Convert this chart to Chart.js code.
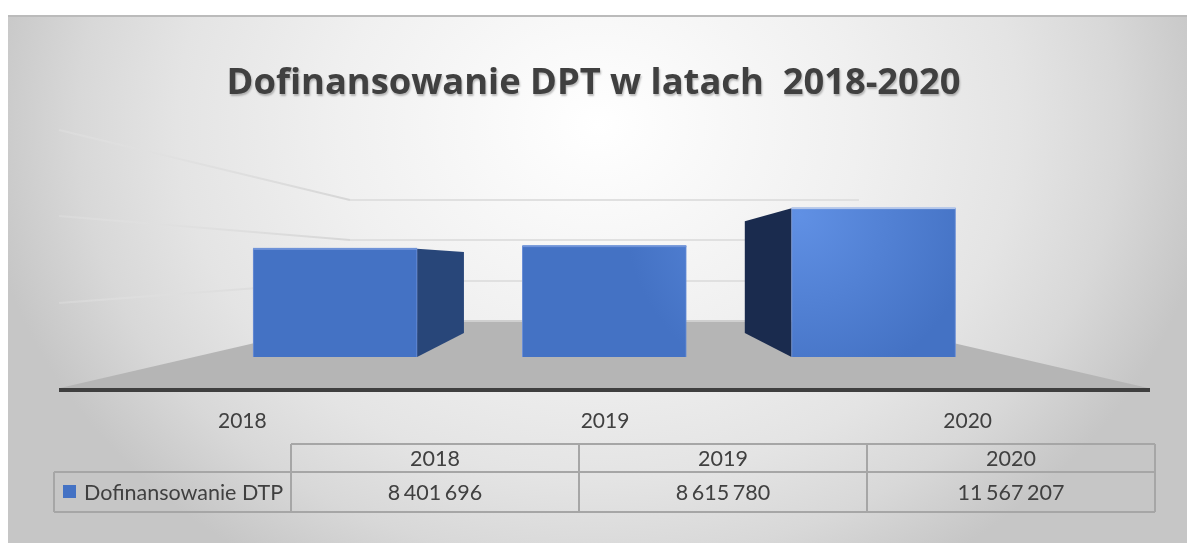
<!DOCTYPE html>
<html lang="pl">
<head>
<meta charset="utf-8">
<title>Dofinansowanie DPT</title>
<style>html,body{margin:0;padding:0;background:#fff;overflow:hidden}canvas{display:block}</style>
<script src="https://cdn.jsdelivr.net/npm/chart.js@4"></script>
</head>
<body>
<canvas id="c" width="1187" height="543"></canvas>
<script>
const titleText = 'Dofinansowanie DPT w latach  2018-2020';
const categories = ['2018', '2019', '2020'];
const years = [2018, 2019, 2020];
const seriesName = 'Dofinansowanie DTP';
const values = [8401696, 8615780, 11567207];
const tableValues = ['8 401 696', '8 615 780', '11 567 207'];

const FONT = 'Lato, Carlito, sans-serif';
const TEXT = '#404040';
const VP = {x: 604.5, y: 261};   // vanishing point of the 3D box
const DEPTH = 0.25;

function lerp(p, t) { return {x: p.x + (VP.x - p.x) * t, y: p.y + (VP.y - p.y) * t}; }
function poly(ctx, pts, fill) {
  ctx.beginPath();
  pts.forEach((p, i) => i ? ctx.lineTo(p[0], p[1]) : ctx.moveTo(p[0], p[1]));
  ctx.closePath(); ctx.fillStyle = fill; ctx.fill();
}
function line(ctx, x0, y0, x1, y1, style) {
  ctx.beginPath(); ctx.moveTo(x0, y0); ctx.lineTo(x1, y1);
  ctx.strokeStyle = style; ctx.lineWidth = 2; ctx.stroke();
}

const scene = {
  id: 'scene',
  beforeDraw(chart) {
    const ctx = chart.ctx;
    // white page + panel with office-style elliptical gradient
    ctx.save();
    ctx.fillStyle = '#fff'; ctx.fillRect(0, 0, chart.width, chart.height);
    ctx.beginPath(); ctx.rect(8, 15, chart.width - 8, chart.height - 15); ctx.clip();
    ctx.translate(598, 125); ctx.scale(1, 0.84);
    const g = ctx.createRadialGradient(0, 0, 0, 0, 0, 620);
    g.addColorStop(0, '#ffffff');
    g.addColorStop(0.42, '#f0f0f0');
    g.addColorStop(0.68, '#e4e4e4');
    g.addColorStop(0.84, '#d8d8d8');
    g.addColorStop(1, '#c6c6c6');
    ctx.fillStyle = g; ctx.fillRect(-700, -200, 1500, 800);
    ctx.restore();
    ctx.fillStyle = '#bbbbbb'; ctx.fillRect(8, 15, chart.width - 8, 2);

    // title shadow
    const tb = chart.titleBlock;
    if (tb && !tb._wrapped) {
      const d = tb.draw.bind(tb);
      tb.draw = (a) => {
        ctx.save();
        ctx.shadowColor = 'rgba(0,0,0,0.25)'; ctx.shadowBlur = 2; ctx.shadowOffsetY = 2; ctx.shadowOffsetX = 1;
        d(a); ctx.restore();
      };
      tb._wrapped = true;
    }

    // data table
    ctx.save();
    ctx.strokeStyle = '#a6a6a6'; ctx.lineWidth = 2;
    const cols = [291, 579, 867, 1155], top = 444, mid = 472, bot = 512, left = 54;
    ctx.beginPath();
    ctx.moveTo(cols[0], top); ctx.lineTo(cols[3], top);
    ctx.moveTo(left, mid); ctx.lineTo(cols[3], mid);
    ctx.moveTo(left, bot); ctx.lineTo(cols[3], bot);
    ctx.moveTo(left, mid); ctx.lineTo(left, bot);
    cols.forEach(x => { ctx.moveTo(x, top); ctx.lineTo(x, bot); });
    ctx.stroke();
    ctx.fillStyle = TEXT; ctx.textBaseline = 'middle'; ctx.textAlign = 'center';
    ctx.font = '21.5px ' + FONT;
    ctx.wordSpacing = '-2px';
    categories.forEach((c, i) => {
      const cx = (cols[i] + cols[i + 1]) / 2;
      ctx.fillText(c, cx, 459);
      ctx.fillText(tableValues[i], cx, 493);
    });
    ctx.wordSpacing = '0px';
    ctx.textAlign = 'left';
    ctx.fillText(seriesName, 84, 493);
    ctx.fillStyle = '#4472c4'; ctx.fillRect(63, 485, 13, 13);
    ctx.restore();
  },
  beforeDatasetsDraw(chart) {
    const ctx = chart.ctx;
    ctx.save();
    // floor
    poly(ctx, [[60, 388], [350, 321], [858, 321], [1148, 388]], '#b5b5b5');
    line(ctx, 350, 321, 858, 321, '#cfcfcf');
    // wall gridlines: back wall and left side wall
    const wall = '#e0e0e0';
    [[200, 130], [240, 216], [281, 303]].forEach(([y, yl]) => {
      const fade = ctx.createLinearGradient(59, 0, 350, 0);
      fade.addColorStop(0, 'rgba(228,228,228,0.35)'); fade.addColorStop(1, 'rgba(214,214,214,1)');
      line(ctx, 59, yl, 350, y, fade);
      line(ctx, 350, y, y === 200 ? 859 : 745, y, wall);
    });
    // 3D side faces derived from the bar elements
    chart.getDatasetMeta(0).data.forEach(bar => {
      const hw = bar.width / 2, l = bar.x - hw, r = bar.x + hw;
      let x, fill;
      if (r < VP.x) { x = r; fill = '#284679'; }
      else if (l > VP.x) { x = l; fill = '#1a2b4e'; }
      else return;
      const a = {x, y: bar.y}, b = {x, y: bar.base};
      const a2 = lerp(a, DEPTH), b2 = lerp(b, DEPTH);
      poly(ctx, [[a.x, a.y], [a2.x, a2.y], [b2.x, b2.y], [b.x, b.y]], fill);
    });
    ctx.restore();
  },
  afterDatasetsDraw(chart) {
    // thin bevel highlight along the top edge of each box
    const ctx = chart.ctx, tops = ['#6f93d8', '#6f93d8', '#b4c6ea'];
    chart.getDatasetMeta(0).data.forEach((bar, i) => {
      ctx.fillStyle = tops[i];
      ctx.fillRect(bar.x - bar.width / 2, bar.y - 1, bar.width, 2);
    });
  }
};

let barGradient = null;
function barFill(c) {
  if (!barGradient) {
    barGradient = c.chart.ctx.createRadialGradient(800, 215, 0, 800, 215, 175);
    barGradient.addColorStop(0, '#6090e4');
    barGradient.addColorStop(1, '#4472c4');
  }
  return barGradient;
}

new Chart(document.getElementById('c'), {
  type: 'bar',
  data: {
    labels: categories,
    datasets: [{
      label: seriesName,
      xAxisID: 'xBars',
      yAxisID: 'y',
      data: years.map((x, i) => ({x, y: values[i]})),
      backgroundColor: barFill,
      borderColor: '#6a8ed6',
      borderWidth: 1,
      barThickness: 164
    }]
  },
  plugins: [scene],
  options: {
    responsive: false,
    animation: false,
    events: [],
    layout: {padding: 0},
    plugins: {
      legend: {display: false},
      tooltip: {enabled: false},
      title: {
        display: true,
        text: titleText,
        color: TEXT,
        font: {family: '"Open Sans", sans-serif', size: 36.3, weight: 'bold', lineHeight: 1.2},
        padding: {top: 62, bottom: 24.44}
      }
    },
    scales: {
      x: {
        type: 'category',
        position: 'bottom',
        labels: categories,
        grid: {display: false},
        border: {color: '#3f3f3f', width: 4},
        ticks: {color: TEXT, font: {family: FONT, size: 21}, padding: 11, maxRotation: 0},
        afterFit: s => { s.height = 153; }
      },
      xBars: {
        type: 'linear',
        display: false,
        offset: false,
        min: 2016.982,
        max: 2021.023
      },
      y: {
        type: 'linear',
        position: 'left',
        min: -2564000,
        max: 17638000,
        grid: {display: false},
        border: {display: false},
        ticks: {display: false},
        afterFit: s => { s.width = 61; }
      },
      yRight: {
        type: 'linear',
        position: 'right',
        grid: {display: false},
        border: {display: false},
        ticks: {display: false},
        afterFit: s => { s.width = 38; }
      }
    }
  }
});
</script>
</body>
</html>
